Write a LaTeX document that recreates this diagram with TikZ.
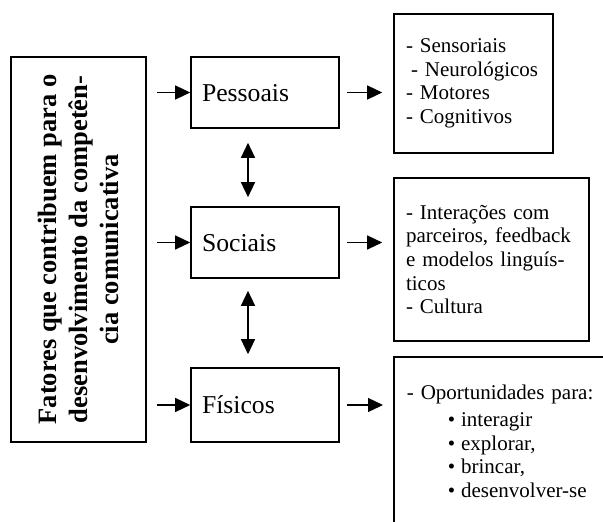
\documentclass[tikz,border=0pt]{standalone}
\usepackage{fontspec}
\setmainfont{Liberation Serif}
\usetikzlibrary{arrows.meta}

\begin{document}
\begin{tikzpicture}[x=1pt, y=-1pt,
    caixa/.style={rectangle, draw, line width=1.6pt},
    fator/.style={caixa, minimum width=148pt, text width=126pt, inner xsep=11pt, align=left,
        text height=17.5pt, text depth=0pt, font=\fontsize{25.7}{30}\selectfont},
    lista/.style={caixa, inner xsep=12pt, align=left, font=\fontsize{21}{23.6}\selectfont},
    seta/.style={line width=1.3pt, -{Triangle[length=15pt 0 0, width=14pt 0 0]}},
    seta dupla/.style={line width=1.3pt, {Triangle[length=15pt 0 0, width=14pt 0 0]}-{Triangle[length=15pt 0 0, width=14pt 0 0]}}]
    \useasboundingbox (0,0) rectangle (603,522);

    \node[caixa, minimum width=135pt, minimum height=385pt] (fatores) at (78.5,249.5)
        {\rotatebox{90}{\parbox{352pt}{\centering\fontsize{26.5}{31}\selectfont\bfseries
            Fatores que contribuem para o\\ desenvolvimento da competên-\\ cia comunicativa}}};

    \node[fator, minimum height=71pt] (pessoais) at (265,92.5) {Pessoais};
    \node[fator, minimum height=71pt] (sociais) at (265,242.5) {Sociais};
    \node[fator, minimum height=74pt] (fisicos) at (265,405) {Físicos};

    \node[lista, minimum width=159pt, minimum height=139pt, text width=135pt] (sensoriais) at (473.5,83.5)
        {- Sensoriais\\ \hspace*{5pt}- Neurológicos\\ - Motores\\ - Cognitivos};
    \node[lista, minimum width=195pt, minimum height=163pt, text width=171pt] (interacoes) at (491.5,259.5)
        {- Interações com\\ parceiros, feedback\\ e modelos linguís-\\ ticos\\ - Cultura};
    % caixa cortada na margem da figura
    \node[lista, draw=none, anchor=north west, text width=250pt, inner ysep=27pt, text depth=200pt] (oportunidades) at (394,357)
        {- Oportunidades para:\\[3.5pt]
         \hspace*{41pt}\textbullet\hspace{6pt}interagir\\
         \hspace*{41pt}\textbullet\hspace{6pt}explorar,\\
         \hspace*{41pt}\textbullet\hspace{6pt}brincar,\\
         \hspace*{41pt}\textbullet\hspace{6pt}desenvolver-se};
    \draw[line width=1.6pt] (oportunidades.north east) -- (oportunidades.north west) -- (oportunidades.south west);

    % setas
    \draw[seta, shorten <=10pt] (fatores.east |- pessoais) -- (pessoais.west);
    \draw[seta, shorten <=10pt] (fatores.east |- sociais) -- (sociais.west);
    \draw[seta, shorten <=10pt] (fatores.east |- fisicos) -- (fisicos.west);

    \draw[seta dupla, shorten <=14pt, shorten >=9pt] ([xshift=-17pt]pessoais.south) -- ([xshift=-17pt]sociais.north);
    \draw[seta dupla, shorten <=12pt, shorten >=13pt] ([xshift=-17pt]sociais.south) -- ([xshift=-17pt]fisicos.north);

    \draw[seta, shorten <=7pt, shorten >=11pt] (pessoais.east) -- (pessoais.east -| sensoriais.west);
    \draw[seta, shorten <=7pt, shorten >=11pt] (sociais.east) -- (sociais.east -| interacoes.west);
    \draw[seta, shorten <=7pt, shorten >=11pt] (fisicos.east) -- (fisicos.east -| oportunidades.west);
\end{tikzpicture}
\end{document}
